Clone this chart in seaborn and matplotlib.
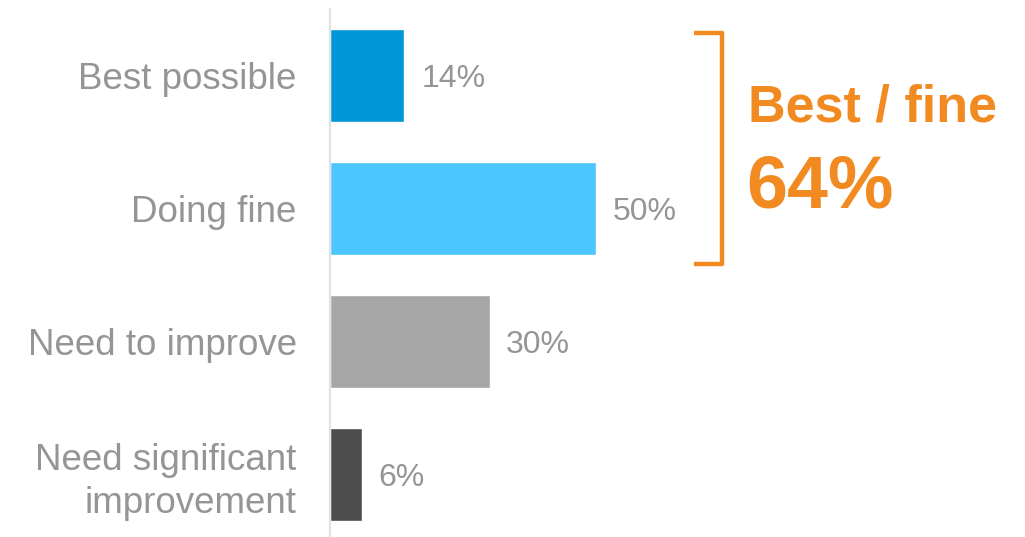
import matplotlib
matplotlib.use("Agg")
import matplotlib.pyplot as plt
import seaborn as sns
import pandas as pd
from matplotlib.lines import Line2D

categories = ["Best possible", "Doing fine", "Need to improve", "Need significant\nimprovement"]
values = [14, 50, 30, 6]
value_labels = ["14%", "50%", "30%", "6%"]
bar_colors = ["#0096D8", "#4CC7FE", "#A6A6A6", "#4D4D4D"]
summary_title = "Best / fine"
summary_value = "64%"

sns.set_theme(style="white")
plt.rcParams["font.family"] = ["Liberation Sans", "DejaVu Sans"]

TEXT_GRAY = "#959595"
ORANGE = "#F28A22"

df = pd.DataFrame({"category": categories, "value": values})

fig = plt.figure(figsize=(10.25, 5.37), dpi=100)
ax = fig.add_axes([330 / 1025, 0.0, 670 / 1025, 1 - 9 / 537])

sns.barplot(data=df, x="value", y="category", hue="category", palette=bar_colors,
            orient="h", width=0.7, dodge=False, legend=False, ax=ax, saturation=1)

ax.set_xlim(0, 670 / 5.32)
ax.set_ylim(3.47, -0.5)
ax.set_xlabel("")
ax.set_ylabel("")
ax.set_xticks([])
for s in ["top", "right", "bottom"]:
    ax.spines[s].set_visible(False)
ax.spines["left"].set_color("#E3E3E3")
ax.spines["left"].set_linewidth(1.6)
ax.tick_params(axis="y", length=0, pad=24, labelsize=26.5, labelcolor=TEXT_GRAY)
for t in ax.get_yticklabels():
    t.set_linespacing(1.28)

for cont, lab in zip(ax.containers, value_labels):
    texts = ax.bar_label(cont, labels=[lab], padding=12, fontsize=23, color=TEXT_GRAY)
    for t in texts:
        t.set_verticalalignment("center_baseline")

# bracket
xs = [694 / 1025, 722 / 1025, 722 / 1025, 694 / 1025]
ys = [1 - 33 / 537, 1 - 33 / 537, 1 - 264 / 537, 1 - 264 / 537]
fig.add_artist(Line2D(xs, ys, transform=fig.transFigure, color=ORANGE, lw=3.2,
                      solid_joinstyle="round", solid_capstyle="butt"))

fig.text(748 / 1025, 1 - 122 / 537, summary_title, color=ORANGE, fontsize=37.5,
         fontweight="bold", va="baseline", ha="left")
fig.text(746 / 1025, 1 - 207 / 537, summary_value, color=ORANGE, fontsize=53,
         fontweight="bold", va="baseline", ha="left")

fig.savefig("out.png", dpi=100)
